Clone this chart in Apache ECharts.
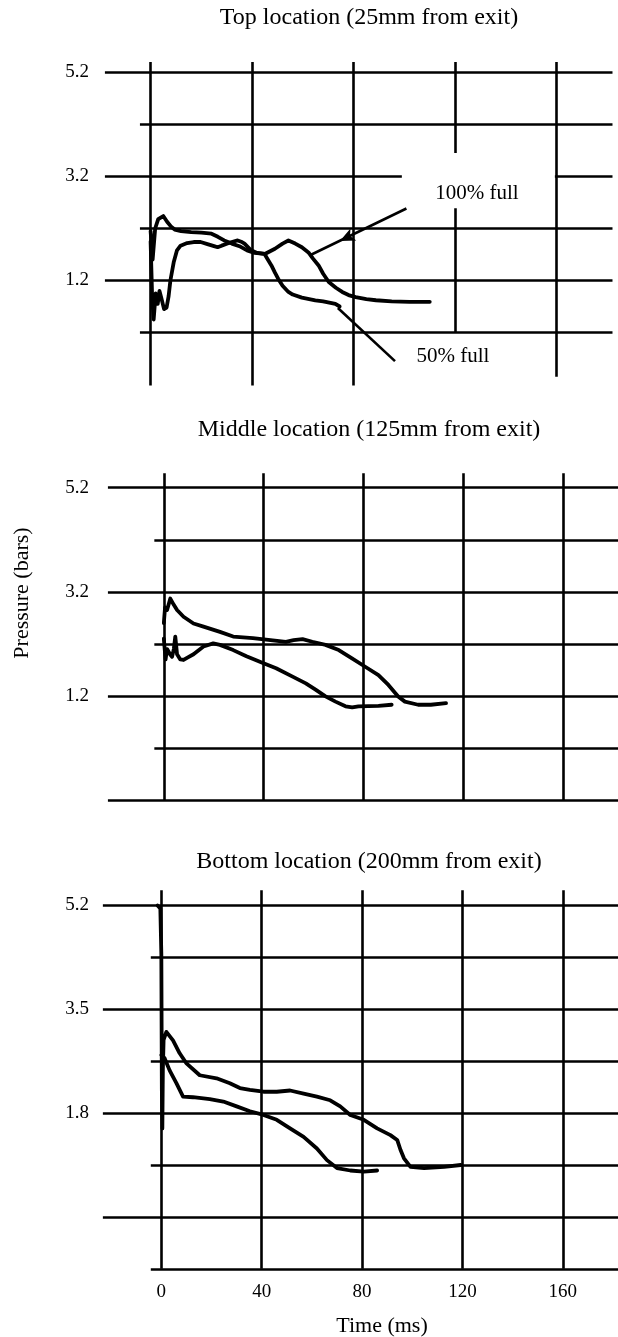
<!DOCTYPE html>
<html><head><meta charset="utf-8">
<script src="https://cdn.jsdelivr.net/npm/echarts@6/dist/echarts.min.js"></script>
<style>html,body{margin:0;padding:0;background:#fff}#c{width:618px;height:1337px}</style>
</head><body><div id="c"></div>
<script>
// ---------- data ----------
const titles = ['Top location (25mm from exit)', 'Middle location (125mm from exit)', 'Bottom location (200mm from exit)'];
const xTicks = [0, 40, 80, 120, 160];
const topGridValues = [5.2, 4.2, 3.2, 2.2, 1.2, 0.2];
const midGridValues = [5.2, 4.2, 3.2, 2.2, 1.2, 0.2, -0.8];
const botGridValues = [5.2, 4.35, 3.5, 2.65, 1.8, 0.95, 0.1, -0.75];
const topLabels = [5.2, 3.2, 1.2];
const midLabels = [5.2, 3.2, 1.2];
const botLabels = [5.2, 3.5, 1.8];
const xName = 'Time (ms)';
const yName = 'Pressure (bars)';

const top100 = [[0,2.15],[0.8,1.6],[1.8,2.2],[3,2.38],[5,2.44],[6.5,2.33],[8,2.24],[9.5,2.18],[12,2.15],[16,2.13],[20,2.12],[24,2.10],[26.5,2.04],[29,1.97],[32,1.91],[35,1.86],[38,1.78],[41,1.73],[45,1.71],[49,1.81],[52,1.91],[54.3,1.97],[57,1.91],[59.6,1.84],[62.2,1.74],[64,1.62],[66.2,1.49],[68,1.33],[70.2,1.17],[73,1.06],[75.5,0.98],[78,0.92],[80.8,0.88],[85,0.84],[88.8,0.82],[95,0.80],[102,0.79],[110,0.79]];
const top50 = [[0,1.95],[0.6,0.9],[1.2,0.45],[2.0,0.95],[2.8,0.75],[3.5,1.0],[4.3,0.85],[5.3,0.65],[6.3,0.68],[7.1,0.9],[7.8,1.2],[9.1,1.55],[10.4,1.78],[11.8,1.87],[14.4,1.92],[17,1.94],[19.7,1.94],[22.4,1.90],[25,1.86],[26.4,1.84],[28,1.87],[30.3,1.91],[32,1.94],[34.3,1.97],[36,1.94],[37,1.91],[39.6,1.78],[42,1.73],[44.9,1.71],[46,1.62],[47.6,1.49],[49,1.35],[50.3,1.23],[52,1.10],[54.3,0.98],[56,0.93],[59.6,0.87],[64.9,0.82],[68,0.80],[72.8,0.75],[74.5,0.70]];
const mid100 = [[0,2.6],[0.5,2.9],[1.3,2.85],[2.6,3.07],[4.0,2.95],[5.3,2.85],[7.9,2.72],[11.9,2.59],[15.9,2.53],[22.5,2.43],[27.8,2.34],[35.7,2.31],[41,2.28],[48.9,2.24],[52,2.27],[55.6,2.29],[59.5,2.24],[64.8,2.18],[70.1,2.08],[75.4,1.92],[80.7,1.76],[86,1.60],[90,1.41],[93.9,1.19],[96.6,1.09],[101.9,1.03],[107,1.03],[113.1,1.06]];
const mid50 = [[0,2.3],[0.7,1.9],[1.3,2.1],[2.5,2.0],[3.3,1.95],[4.0,2.1],[4.6,2.34],[5.3,2.0],[6.6,1.9],[7.9,1.89],[9.3,1.93],[11.9,2.0],[15.9,2.15],[19.8,2.21],[22.5,2.18],[27.8,2.08],[33.1,1.96],[39.7,1.83],[45,1.73],[51.6,1.57],[56.9,1.44],[60.8,1.32],[64.8,1.19],[68.8,1.09],[72.8,1.0],[75.5,0.98],[78,1.0],[86,1.01],[91.3,1.03]];
const bot100 = [[-1.5,5.2],[-0.4,5.15],[0,4.4],[0.2,2.2],[0.4,1.55],[0.6,2.5],[0.9,3.0],[2,3.13],[4.65,2.99],[7.3,2.78],[9.9,2.62],[15.3,2.42],[22,2.37],[27.3,2.29],[31.3,2.21],[35.3,2.18],[40.7,2.15],[46,2.15],[51.3,2.17],[56.7,2.12],[62,2.07],[67.3,2.01],[71.3,1.91],[75.3,1.77],[80.7,1.69],[86,1.55],[91.3,1.44],[94,1.36],[95.3,1.20],[96.7,1.06],[99.3,0.92],[104.7,0.90],[112.7,0.92],[119.3,0.95]];
const bot50 = [[0,2.75],[1.3,2.7],[3.3,2.5],[6.0,2.29],[8.65,2.07],[12.6,2.06],[19.3,2.03],[24.7,1.99],[30,1.91],[35.3,1.83],[40.7,1.77],[46,1.69],[51.3,1.55],[56.7,1.41],[62,1.22],[66,1.03],[70,0.90],[75.3,0.86],[80.7,0.84],[86,0.86]];

const annotationText = ['100% full', '50% full'];
const annotationAt = [[128.6, 2.88], [119.1, -0.27]];
const pointer100 = [[100.8, 2.585], [62.6, 1.68]];
const pointer50 = [[73.8, 0.67], [96.3, -0.35]];
const arrowHead100 = [[74.6, 1.96]];

// ---------- layout ----------
const FONT = '"Liberation Serif", "Times New Roman", serif';
const panels = [
  {grid:{left:89.69, top:51.7, width:522.8, height:343.2}, ymin:-1, ymax:5.6, gridValues:topGridValues, labels:topLabels, labelMargin:0.7,
   longStart:-18, shortStart:-4.2, end:182, hGap:{index:2, from:99, to:159.3}, vBottom:-0.82, vTop:5.4,
   vOverride:{3:[[0.2,2.59],[3.65,5.4]], 4:[[-0.65,5.4]]}, titleY:17.5, series:[top100, top50]},
  {grid:{left:103.93, top:466.88, width:520.77, height:343.53}, ymin:-1, ymax:5.6, gridValues:midGridValues, labels:midLabels, labelMargin:14.9,
   longStart:-22.4, shortStart:-3.8, end:182, vBottom:-0.82, vTop:5.48, titleY:430, series:[mid100, mid50]},
  {grid:{left:101.12, top:881.08, width:519.94, height:396.89}, ymin:-0.9, ymax:5.6, gridValues:botGridValues, labels:botLabels, labelMargin:12.1,
   longStart:-23.3, shortStart:-4.2, end:182, vBottom:-0.75, vTop:5.45, titleY:861.5, series:[bot100, bot50]}
];

function hSegs(p) {
  const segs = [];
  p.gridValues.forEach((v, i) => {
    const start = i % 2 === 0 ? p.longStart : p.shortStart;
    if (p.hGap && p.hGap.index === i) {
      segs.push([[start, v], [p.hGap.from, v]]);
      segs.push([[p.hGap.to, v], [p.end, v]]);
    } else {
      segs.push([[start, v], [p.end, v]]);
    }
  });
  return segs;
}
function vSegs(p) {
  const segs = [];
  xTicks.forEach((t, i) => {
    const parts = (p.vOverride && p.vOverride[i]) || [[p.vBottom, p.vTop]];
    parts.forEach(q => segs.push([[t, q[0]], [t, q[1]]]));
  });
  return segs;
}

const option = {
  backgroundColor: '#fff',
  animation: false,
  title: panels.map((p, i) => ({
    text: titles[i], left: 369, top: p.titleY, textAlign: 'center', textVerticalAlign: 'middle', padding: 0,
    textStyle: {fontFamily: FONT, fontSize: 24, fontWeight: 'normal', color: '#000'}
  })),
  grid: panels.map(p => Object.assign({containLabel: false}, p.grid)),
  xAxis: panels.map((p, i) => ({
    type: 'value', gridIndex: i, min: -24, max: 182,
    axisLine: {show: false}, axisTick: {show: false}, splitLine: {show: false},
    axisLabel: {show: i === 2, customValues: xTicks, margin: 5, fontFamily: FONT, fontSize: 19, color: '#000'}
  })),
  yAxis: panels.map((p, i) => ({
    type: 'value', gridIndex: i, min: p.ymin, max: p.ymax,
    axisLine: {show: false}, axisTick: {show: false}, splitLine: {show: false},
    axisLabel: {show: true, customValues: p.labels, margin: p.labelMargin, fontFamily: FONT, fontSize: 19, color: '#000',
      formatter: v => Number(v).toFixed(1)}
  })),
  graphic: [
    {type: 'text', x: 382, y: 1326, style: {text: xName, font: '22px ' + FONT, fill: '#000', align: 'center', verticalAlign: 'middle'}},
    {type: 'text', x: 22.5, y: 593, rotation: Math.PI / 2, style: {text: yName, font: '22px ' + FONT, fill: '#000', align: 'center', verticalAlign: 'middle'}}
  ],
  series: []
};

panels.forEach((p, i) => {
  option.series.push({
    type: 'lines', coordinateSystem: 'cartesian2d', xAxisIndex: i, yAxisIndex: i, polyline: false, silent: true, z: 1,
    lineStyle: {color: '#000', width: 2.6, opacity: 1, curveness: 0},
    data: hSegs(p).concat(vSegs(p)).map(c => ({coords: c}))
  });
  p.series.forEach((d, j) => {
    option.series.push({
      name: (j === 0 ? '100% full' : '50% full'), type: 'line', xAxisIndex: i, yAxisIndex: i, data: d,
      showSymbol: false, symbol: 'none', silent: true, z: 3, clip: false,
      lineStyle: {color: '#000', width: 3.8, join: 'round', cap: 'round'}
    });
  });
});

// annotations on the top panel
[pointer100, pointer50].forEach(d => option.series.push({
  type: 'line', xAxisIndex: 0, yAxisIndex: 0, data: d, showSymbol: false, symbol: 'none', silent: true, z: 4,
  lineStyle: {color: '#000', width: 2.6}
}));
option.series.push({
  type: 'scatter', xAxisIndex: 0, yAxisIndex: 0, data: arrowHead100, symbol: 'arrow', symbolSize: [10, 15], symbolRotate: 116,
  itemStyle: {color: '#000', opacity: 1}, silent: true, z: 5
});
option.series.push({
  type: 'scatter', xAxisIndex: 0, yAxisIndex: 0, silent: true, z: 5, symbolSize: 1,
  itemStyle: {color: '#fff', opacity: 1},
  data: annotationAt.map((c, k) => ({value: c, name: annotationText[k]})),
  label: {show: true, position: 'inside', formatter: q => q.name, fontFamily: FONT, fontSize: 21, color: '#000', opacity: 1}
});

const chart = echarts.init(document.getElementById('c'), null, {renderer: 'canvas', width: 618, height: 1337});
chart.setOption(option);
</script></body></html>
